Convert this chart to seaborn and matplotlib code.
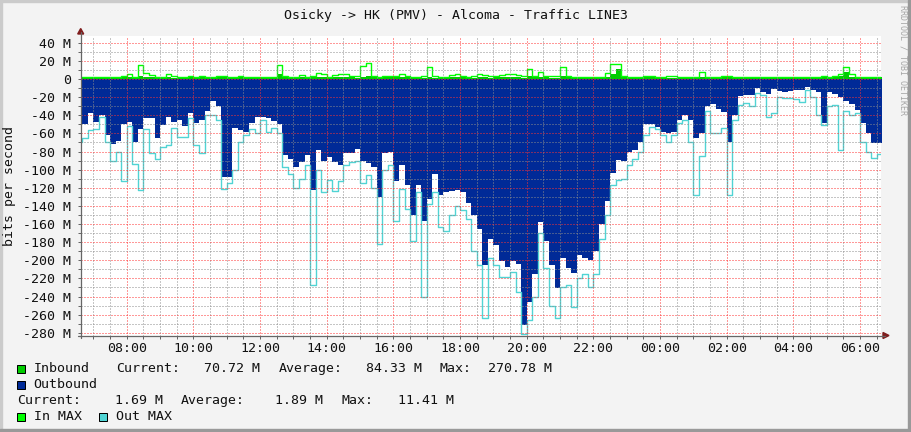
import pandas as pd
import numpy as np
import matplotlib
matplotlib.use("Agg")
import matplotlib.pyplot as plt
import matplotlib.dates as mdates
from matplotlib.patches import Rectangle, Polygon
from matplotlib.lines import Line2D
from matplotlib.ticker import MultipleLocator, FuncFormatter
import seaborn as sns

W, H = 911, 432

# 10 minute samples from 06:30 to 06:40 next day, Mbit/s
start = "2024-05-13 06:30"
down_avg = [60, 50, 38, 47, 40, 62, 72, 68, 50, 47, 70, 55,
            43, 43, 65, 51, 42, 47, 45, 52, 38, 49, 45, 35,
            24, 30, 108, 108, 54, 56, 58, 48, 42, 42, 43, 46,
            50, 84, 88, 97, 92, 84, 122, 78, 90, 86, 92, 95,
            82, 82, 77, 91, 93, 97, 130, 82, 80, 113, 95, 117,
            150, 117, 157, 132, 105, 128, 125, 124, 122, 125, 137, 150,
            165, 205, 176, 183, 201, 207, 201, 204, 271, 246, 215, 158,
            179, 205, 231, 198, 209, 214, 194, 198, 200, 190, 160, 135,
            104, 89, 90, 80, 78, 70, 50, 50, 53, 58, 60, 58,
            45, 40, 45, 65, 60, 30, 28, 33, 36, 70, 40, 19,
            18, 18, 10, 14, 16, 11, 13, 14, 13, 12, 12, 9,
            12, 14, 48, 14, 16, 20, 24, 28, 34, 48, 60, 71,
            71, 71]
down_max = [69, 65, 56, 55, 42, 70, 90, 80, 112, 52, 94, 122,
            55, 82, 88, 75, 73, 54, 64, 64, 43, 73, 82, 40,
            40, 45, 121, 115, 100, 69, 62, 55, 60, 45, 58, 54,
            60, 97, 105, 120, 110, 95, 227, 100, 125, 111, 124, 113,
            95, 92, 90, 115, 106, 120, 182, 100, 95, 157, 121, 143,
            179, 125, 240, 138, 125, 163, 168, 150, 140, 145, 154, 190,
            205, 264, 198, 205, 218, 218, 213, 235, 281, 266, 240, 170,
            209, 250, 264, 230, 227, 252, 220, 215, 229, 215, 176, 150,
            117, 111, 110, 95, 88, 80, 62, 53, 55, 62, 70, 62,
            48, 45, 70, 128, 85, 35, 60, 60, 54, 128, 45, 29,
            27, 30, 15, 18, 42, 38, 20, 21, 21, 22, 25, 12,
            20, 40, 51, 30, 29, 78, 35, 40, 38, 70, 80, 87,
            83, 83]
up_avg = [1.5, 1.5, 1.5, 1.5, 1.5, 1.5, 1.5, 1.5, 1.8, 2.0, 1.6, 3.0,
          2.2, 1.8, 1.6, 1.6, 1.8, 1.6, 1.6, 1.6, 1.7, 1.6, 1.8, 1.6,
          1.6, 1.7, 1.7, 1.6, 1.6, 1.7, 1.6, 1.6, 1.6, 1.6, 1.6, 1.6,
          5.0, 1.8, 1.6, 1.6, 1.8, 1.6, 1.7, 2.0, 1.9, 1.6, 1.8, 2.0,
          2.0, 1.7, 1.6, 2.2, 3.0, 1.7, 1.6, 1.7, 1.8, 1.7, 2.0, 1.7,
          1.6, 1.6, 1.6, 2.0, 1.6, 1.6, 1.6, 1.8, 2.0, 1.7, 1.6, 1.6,
          1.8, 1.8, 1.6, 1.7, 1.8, 2.0, 2.0, 1.8, 1.6, 3.0, 1.7, 2.2,
          1.7, 1.6, 1.6, 3.0, 1.7, 1.6, 1.6, 1.6, 1.6, 1.6, 1.6, 2.0,
          5.0, 11.4, 1.8, 1.6, 1.6, 1.6, 1.7, 1.7, 1.6, 1.6, 1.6, 1.6,
          1.6, 1.6, 1.6, 1.6, 2.2, 1.6, 1.6, 1.6, 1.7, 1.7, 1.6, 1.6,
          1.6, 1.6, 1.6, 1.6, 1.6, 1.6, 1.6, 1.6, 1.6, 1.6, 1.6, 1.6,
          1.6, 1.6, 1.7, 1.6, 1.7, 3.0, 7.8, 2.2, 1.6, 1.6, 1.7, 1.7,
          1.7, 1.7]
up_max = [2.4, 2.4, 2.4, 2.4, 2.4, 2.4, 2.4, 2.4, 3.5, 5.5, 2.6, 15.2,
          6.2, 4.5, 2.6, 2.5, 5.0, 3.2, 2.5, 2.5, 3.3, 2.5, 3.5, 2.5,
          2.5, 3.3, 3.0, 2.6, 2.5, 3.2, 2.4, 2.4, 2.4, 2.4, 2.4, 2.6,
          15.2, 3.5, 2.6, 2.5, 4.4, 2.6, 3.0, 6.2, 5.0, 2.6, 4.0, 5.0,
          5.0, 3.0, 2.8, 14.5, 17.5, 3.0, 2.6, 3.5, 3.7, 3.0, 5.0, 3.0,
          2.6, 2.6, 2.8, 13.5, 2.8, 2.6, 2.6, 4.4, 6.0, 3.0, 2.6, 2.8,
          5.0, 4.0, 2.8, 3.0, 4.5, 5.5, 5.5, 4.0, 2.8, 10.7, 3.0, 7.4,
          3.5, 2.8, 2.8, 13.0, 3.5, 2.6, 2.6, 2.6, 2.6, 2.6, 2.6, 6.6,
          16.2, 16.2, 3.5, 2.6, 2.6, 2.6, 3.0, 3.0, 2.6, 2.6, 2.8, 2.8,
          2.6, 2.6, 2.6, 2.6, 7.3, 2.6, 2.6, 2.6, 3.0, 3.0, 2.6, 2.6,
          2.6, 2.6, 2.6, 2.6, 2.6, 2.6, 2.6, 2.6, 2.6, 2.6, 2.6, 2.6,
          2.6, 2.6, 3.0, 2.6, 3.5, 5.5, 13.0, 5.0, 2.6, 2.6, 2.4, 2.4,
          2.4, 2.4]

title = "Osicky -> HK (PMV) - Alcoma - Traffic LINE3"
in_stats = ["70.72 M", "84.33 M", "270.78 M"]
out_stats = ["1.69 M", "1.89 M", "11.41 M"]

BLUE = "#002A97"
GREEN = "#00CC00"
LIME = "#00FF00"
CYAN = "#50D4D4"
FONT = 9.5


def px(x, y):
    return x / W, 1 - y / H


times = pd.date_range(start, periods=len(down_avg), freq="10min")
df = pd.DataFrame({
    "time": times,
    "down_avg": -np.array(down_avg, dtype=float),
    "down_max": -np.array(down_max, dtype=float),
    "up_avg": np.array(up_avg),
    "up_max": np.array(up_max),
})

sns.set_style("white")
plt.rcParams["font.family"] = ["DejaVu Sans Mono"]

fig = plt.figure(figsize=(W / 100, H / 100), dpi=100, facecolor="#F3F3F3")
ax = fig.add_axes([80.7 / W, 1 - 335.5 / H, 800 / W, 300 / H])
ax.set_facecolor("white")

ax.fill_between(df["time"], 0, df["down_avg"], step="post", color=BLUE, lw=0, zorder=1)
ax.fill_between(df["time"], 0, df["up_avg"], step="post", color=GREEN, lw=0, zorder=1)
sns.lineplot(data=df, x="time", y="down_max", drawstyle="steps-post", color=CYAN,
             lw=1.0, ax=ax, zorder=2)
sns.lineplot(data=df, x="time", y="up_max", drawstyle="steps-post", color=LIME,
             lw=1.0, ax=ax, zorder=2)

ax.set_xlim(pd.Timestamp("2024-05-13 06:37"), pd.Timestamp("2024-05-14 06:37"))
ax.set_ylim(-283, 48)
ax.set_xlabel("")
ax.set_ylabel("")

ax.xaxis.set_major_locator(mdates.HourLocator(byhour=range(0, 24, 2)))
ax.xaxis.set_minor_locator(mdates.MinuteLocator(byminute=[0, 30]))
ax.xaxis.set_major_formatter(mdates.DateFormatter("%H:%M"))
ax.yaxis.set_major_locator(MultipleLocator(20))
ax.yaxis.set_minor_locator(MultipleLocator(10))
ax.yaxis.set_major_formatter(FuncFormatter(lambda v, p: "0" if v == 0 else f"{int(v)} M"))

ax.set_axisbelow(False)
ax.grid(True, which="major", color=(1, 0.2, 0.2, 0.55), lw=0.72, ls=(0, (1, 2)), snap=True)
ax.grid(True, which="minor", color=(0.55, 0.55, 0.55, 0.55), lw=0.72, ls=(0, (1, 2)), snap=True)

ax.tick_params(which="both", left=True, bottom=True, direction="out",
               length=2.2, width=0.72, color="#666666")
ax.tick_params(axis="y", which="major", pad=4.5, labelsize=FONT, labelcolor="#111111")
ax.tick_params(axis="x", which="major", pad=2.5, labelsize=FONT, labelcolor="#111111")
for s in ax.spines.values():
    s.set_visible(False)

# axis lines and arrows, rrdtool style
fig.add_artist(Line2D([px(80.7, 0)[0]] * 2, [px(0, 338)[1], px(0, 32)[1]],
                      color="#666666", lw=0.9, transform=fig.transFigure))
fig.add_artist(Line2D([px(78, 0)[0], px(885, 0)[0]], [px(0, 335.5)[1]] * 2,
                      color="#666666", lw=0.9, transform=fig.transFigure))
fig.add_artist(Polygon([px(77.7, 34), px(83.7, 34), px(80.7, 28.5)], closed=True,
                       color="#7F1D1D", transform=fig.transFigure))
fig.add_artist(Polygon([px(883, 332.5), px(883, 338.5), px(889, 335.5)], closed=True,
                       color="#7F1D1D", transform=fig.transFigure))

# frame shading
fig.add_artist(Rectangle((0, 1 - 2 / H), 1, 2 / H, color="#CBCBCB", transform=fig.transFigure))
fig.add_artist(Rectangle((0, 0), 2 / W, 1, color="#CBCBCB", transform=fig.transFigure))
fig.add_artist(Rectangle((0, 0), 1, 3 / H, color="#999999", transform=fig.transFigure))
fig.add_artist(Rectangle((1 - 3 / W, 0), 3 / W, 1, color="#999999", transform=fig.transFigure))

# texts
fig.text(*px(455.5, 15), title, ha="center", va="center", fontsize=FONT, color="#111111")
fig.text(*px(10, 186), "bits per second", ha="center", va="center", rotation=90,
         fontsize=FONT, color="#111111")
fig.text(*px(903, 60), "RRDTOOL / TOBI OETIKER", ha="center", va="center", rotation=-90,
         fontsize=6, color="#A6A6A6")


def swatch(x, y, color):
    fig.add_artist(Rectangle(px(x, y + 8), 8 / W, 8 / H, facecolor=color, edgecolor="black",
                             lw=0.72, transform=fig.transFigure))


def label(x, y, s):
    fig.text(*px(x, y), s, ha="left", va="center", fontsize=FONT, color="#111111")


swatch(17, 365, GREEN)
label(33.5, 368.5, "Inbound")
for x, s in zip([116, 279, 440], ["Current:", "Average:", "Max:"]):
    label(x, 368.5, s)
for x, s in zip([204, 366, 488], in_stats):
    label(x, 368.5, s)

swatch(17, 380.5, BLUE)
label(33.5, 384.5, "Outbound")

for x, s in zip([17.5, 181, 342], ["Current:", "Average:", "Max:"]):
    label(x, 400.5, s)
for x, s in zip([115, 275, 398], out_stats):
    label(x, 400.5, s)

swatch(17, 412.5, LIME)
label(33.5, 416.5, "In MAX")
swatch(99, 412.5, CYAN)
label(115.5, 416.5, "Out MAX")

fig.savefig("out.png", dpi=100, facecolor=fig.get_facecolor())
